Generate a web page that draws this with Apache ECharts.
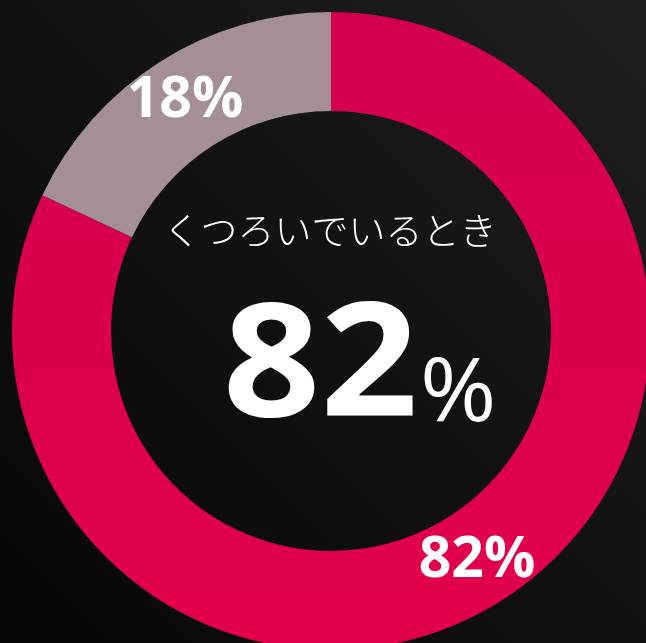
<!DOCTYPE html>
<html>
<head>
<meta charset="utf-8">
<script src="https://cdn.jsdelivr.net/npm/echarts@6/dist/echarts.min.js"></script>
<style>
  html, body { margin: 0; padding: 0; background: #0d0d0d; }
  #chart { width: 646px; height: 643px; }
</style>
</head>
<body>
<div id="chart"></div>
<script>
// Share of respondents answering for the "relaxing" situation
const caption = 'くつろいでいるとき';
const categories = ['はい', 'いいえ'];
const shares = [82, 18];
const sliceColors = ['#da004e', '#a38f95'];

const chart = echarts.init(document.getElementById('chart'), null, { renderer: 'canvas' });

const headline = shares[0];

chart.setOption({
  backgroundColor: {
    type: 'linear', x: 1, y: 0, x2: 0, y2: 1,
    colorStops: [
      { offset: 0, color: '#202020' },
      { offset: 0.5, color: '#111111' },
      { offset: 1, color: '#070707' }
    ]
  },
  animation: false,
  series: [{
    type: 'pie',
    center: [331, 331],
    radius: [220, 319],
    startAngle: 90,
    clockwise: true,
    silent: true,
    label: {
      show: true,
      position: 'inside',
      formatter: p => p.value + '%',
      color: '#ffffff',
      fontFamily: 'Open Sans',
      fontWeight: 'bold',
      fontSize: 57
    },
    labelLine: { show: false },
    itemStyle: { borderWidth: 0 },
    data: categories.map((name, i) => ({
      name,
      value: shares[i],
      itemStyle: {
        color: i === 0 ? {
          type: 'linear', x: 0, y: 0, x2: 0, y2: 1,
          colorStops: [
            { offset: 0, color: '#d30050' },
            { offset: 1, color: '#e3004a' }
          ]
        } : sliceColors[i]
      }
    }))
  }],
  graphic: [
    {
      type: 'text',
      x: 330, y: 231,
      style: {
        text: caption,
        fill: '#ffffff',
        font: '300 37px "Noto Sans CJK JP"',
        textAlign: 'center',
        textVerticalAlign: 'middle'
      }
    },
    {
      type: 'text',
      x: 418, y: 371,
      scaleX: 1.08,
      style: {
        text: String(headline),
        fill: '#ffffff',
        font: 'bold 158px "Open Sans"',
        textAlign: 'right',
        textVerticalAlign: 'middle'
      }
    },
    {
      type: 'text',
      x: 420, y: 396,
      scaleX: 1.05,
      style: {
        text: '%',
        fill: '#ffffff',
        font: '88px "Open Sans"',
        textAlign: 'left',
        textVerticalAlign: 'middle'
      }
    }
  ]
});
</script>
</body>
</html>
